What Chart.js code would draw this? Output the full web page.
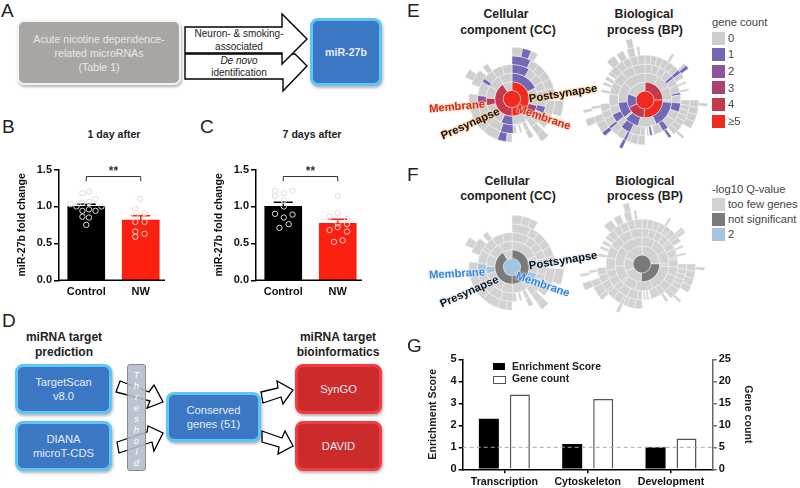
<!DOCTYPE html>
<html>
<head>
<meta charset="utf-8">
<script src="https://cdn.jsdelivr.net/npm/chart.js@4/dist/chart.umd.min.js"></script>
<style>
  html, body { margin: 0; padding: 0; background: #fff; }
  #stage { position: relative; width: 800px; height: 488px; overflow: hidden; font-family: "Liberation Sans", Arial, sans-serif; color: #111; }
  #stage canvas, #stage svg { position: absolute; }
  .c { position: absolute; transform: translate(-50%, -50%); white-space: nowrap; }
  .l { position: absolute; transform: translateY(-50%); white-space: nowrap; }
  .panel { font-size: 19px; color: #222; }
  .head { font-weight: bold; font-size: 12.3px; color: #222; }
  .small { font-size: 10px; color: #222; }
  .box { position: absolute; box-sizing: border-box; display: flex; align-items: center; justify-content: center; text-align: center; font-size: 11.2px; line-height: 14px; color: #e6edf6; box-shadow: 1px 2px 3px rgba(0,0,0,.3); }
  .blue { background: #3c77c3; border: 3px solid #5cc6f6; border-radius: 8px; }
  .red { background: #cb2b2b; border: 3px solid #f53a40; border-radius: 8px; }
  .grey { background: #a9a5a3; border: 2px solid #f3f3f3; border-radius: 7px; color: #e8e8e8; }
  .strip { position: absolute; left: 127px; top: 364px; width: 19px; height: 107px; box-sizing: border-box; background: rgba(178,188,202,.88); border: 1px solid #8b8b8b; border-radius: 3px; text-align: center; font-style: italic; font-size: 9.5px; line-height: 11px; padding-top: 4px; color: #fff; }
  .sw { position: absolute; left: 712px; width: 13px; height: 13px; }
  .leg { font-size: 11.2px; color: #444; }
  .orange { font-weight: bold; font-size: 11.2px; color: #111; text-shadow: 0 0 2px #f6c08c, 0 0 2px #f6c08c, 0 0 3px #f6c08c; }
  .rd { font-weight: bold; font-size: 11.2px; color: #d62a1e; text-shadow: 0 0 2px #f8cdb0, 0 0 2px #f8cdb0, 0 0 3px #f8cdb0; }
  .pale { font-weight: bold; font-size: 11.2px; color: #111; text-shadow: 0 0 2px #cfe4f6, 0 0 2px #cfe4f6, 0 0 3px #cfe4f6; }
  .bl { font-weight: bold; font-size: 11.2px; color: #3b86da; text-shadow: 0 0 2px #dcecfa, 0 0 2px #dcecfa, 0 0 3px #dcecfa; }
</style>
</head>
<body>
<div id="stage">
  <!-- A -->
  <div class="l panel" style="left:1px;top:11px">A</div>
  <div class="box grey" style="left:17px;top:20px;width:164px;height:65px;font-size:10.6px">Acute nicotine dependence-<br>related microRNAs<br>(Table 1)</div>
  <svg style="left:180px;top:10px" width="135" height="85" viewBox="180 10 135 85">
    <polygon points="185,54 295,54 307,66 283,91 283,79 185,79" fill="#fff" stroke="#000" stroke-width="1.4"/>
    <polygon points="185,27 282,27 282,14 307,39 282,64 282,53 185,53" fill="#fff" stroke="#000" stroke-width="1.4"/>
  </svg>
  <div class="box blue" style="left:310px;top:18px;width:72px;height:68px;font-weight:bold;font-size:10.6px">miR-27b</div>
  <div class="c small" style="left:239px;top:33px">Neuron- &amp; smoking-</div>
  <div class="c small" style="left:239px;top:46px">associated</div>
  <div class="c small" style="left:239px;top:60px"><i>De novo</i></div>
  <div class="c small" style="left:239px;top:72px">identification</div>

  <!-- B, C -->
  <div class="l panel" style="left:2px;top:127px">B</div>
  <div class="l panel" style="left:200px;top:127px">C</div>
  <div class="c head" style="left:114px;top:134px;font-size:10.6px">1 day after</div>
  <div class="c head" style="left:312px;top:134px;font-size:10.6px">7 days after</div>
  <canvas id="chartB" width="157" height="140" style="left:16px;top:160px"></canvas>
  <canvas id="chartC" width="157" height="140" style="left:213px;top:160px"></canvas>

  <!-- D -->
  <div class="l panel" style="left:2px;top:321px">D</div>
  <div class="c head" style="left:64px;top:337px;font-size:12px">miRNA target</div>
  <div class="c head" style="left:64px;top:352px;font-size:12px">prediction</div>
  <div class="c head" style="left:338px;top:337px;font-size:12px">miRNA target</div>
  <div class="c head" style="left:338px;top:352px;font-size:12px">bioinformatics</div>
  <div class="box blue" style="left:15px;top:364px;width:97px;height:50px">TargetScan<br>v8.0</div>
  <div class="box blue" style="left:15px;top:421px;width:97px;height:50px">DIANA<br>microT-CDS</div>
  <svg style="left:110px;top:370px" width="190" height="100" viewBox="110 370 190 100">
    <polygon points="120,381 149,392 154,385 163,402 147,408 150,401 116,392" fill="#fff" stroke="#000" stroke-width="1.3"/>
    <polygon points="117,442 147,432 148,426 163,433 154,451 152,442 119,453" fill="#fff" stroke="#000" stroke-width="1.3"/>
    <polygon points="261,392 278,388 277,381 293,390 283,404 281,397 263,403" fill="#fff" stroke="#000" stroke-width="1.3"/>
    <polygon points="262,431 282,438 285,431 293,446 278,454 279,447 262,442" fill="#fff" stroke="#000" stroke-width="1.3"/>
  </svg>
  <div class="strip">T<br>h<br>r<br>e<br>s<br>h<br>o<br>l<br>d</div>
  <div class="box blue" style="left:166px;top:392px;width:95px;height:50px">Conserved<br>genes (51)</div>
  <div class="box red" style="left:295px;top:364px;width:87px;height:50px">SynGO</div>
  <div class="box red" style="left:295px;top:421px;width:87px;height:50px">DAVID</div>

  <!-- E -->
  <div class="l panel" style="left:407px;top:11px">E</div>
  <div class="c head" style="left:506px;top:14px">Cellular</div>
  <div class="c head" style="left:508px;top:30px">component (CC)</div>
  <div class="c head" style="left:644px;top:14px">Biological</div>
  <div class="c head" style="left:645px;top:30px">process (BP)</div>
  <canvas id="sunCcGene" width="108" height="108" style="left:458px;top:45px"></canvas>
  <canvas id="sunBpGene" width="130" height="130" style="left:580px;top:35px"></canvas>
  <div class="c orange" style="left:563px;top:93px;transform:translate(-50%,-50%) rotate(-9deg)">Postsynapse</div>
  <div class="c rd" style="left:457px;top:106px;transform:translate(-50%,-50%) rotate(-5deg)">Membrane</div>
  <div class="c orange" style="left:470px;top:123px;transform:translate(-50%,-50%) rotate(-24deg)">Presynapse</div>
  <div class="c rd" style="left:544px;top:117px;transform:translate(-50%,-50%) rotate(19deg)">Membrane</div>
  <div class="l leg" style="left:712px;top:22px">gene count</div>
  <div id="geneLegend"></div>

  <!-- F -->
  <div class="l panel" style="left:407px;top:175px">F</div>
  <div class="c head" style="left:507px;top:181px">Cellular</div>
  <div class="c head" style="left:508px;top:196px">component (CC)</div>
  <div class="c head" style="left:645px;top:181px">Biological</div>
  <div class="c head" style="left:645px;top:196px">process (BP)</div>
  <canvas id="sunCcQ" width="108" height="108" style="left:458px;top:213px"></canvas>
  <canvas id="sunBpQ" width="130" height="130" style="left:577px;top:199px"></canvas>
  <div class="c pale" style="left:563px;top:260px;transform:translate(-50%,-50%) rotate(-9deg)">Postsynapse</div>
  <div class="c bl" style="left:457px;top:273px;transform:translate(-50%,-50%) rotate(-3deg)">Membrane</div>
  <div class="c pale" style="left:469px;top:291px;transform:translate(-50%,-50%) rotate(-24deg)">Presynapse</div>
  <div class="c bl" style="left:543px;top:284px;transform:translate(-50%,-50%) rotate(19deg)">Membrane</div>
  <div class="l leg" style="left:712px;top:189px">-log10 Q-value</div>
  <div id="qLegend"></div>

  <!-- G -->
  <div class="l panel" style="left:407px;top:346px">G</div>
  <canvas id="chartG" width="327" height="138" style="left:427px;top:350px"></canvas>
  <div class="sw" style="left:493px;top:363px;width:12px;height:7px;background:#000"></div>
  <div class="l head" style="left:512px;top:366px;font-size:10.4px">Enrichment Score</div>
  <div class="sw" style="left:493px;top:376px;width:11px;height:6px;background:#fff;border:1px solid #555"></div>
  <div class="l head" style="left:512px;top:378px;font-size:10.4px">Gene count</div>
</div>

<script>
// B, C: bars, sem and the single animals
const groups = ['Control', 'NW'];
const foldTicks = ['0.0', '0.5', '1.0', '1.5'];
const dayOneMeans = [1.0, 0.815];
const dayOneSems = [0.03, 0.058];
const dayOneCtrlX = [0.43, 0.55, 0.21, 0.32, 0.43, 0.55, 0.67, 0.78, 0.43, 0.55, 0.67, 0.43, 0.55, 0.5];
const dayOneCtrlY = [1.18, 1.2, 1.03, 1.0, 1.05, 1.06, 1.1, 1.0, 0.94, 0.96, 0.94, 0.86, 0.85, 0.75];
const dayOneNwX = [1.49, 1.4, 1.57, 1.4, 1.57, 1.4, 1.4, 1.4, 1.57];
const dayOneNwY = [1.1, 0.97, 0.91, 0.87, 0.79, 0.79, 0.66, 0.59, 0.63];
const daySevenMeans = [1.0, 0.77];
const daySevenSems = [0.055, 0.055];
const daySevenCtrlX = [0.35, 0.35, 0.51, 0.67, 0.51, 0.51, 0.35, 0.51, 0.67, 0.6, 0.43];
const daySevenCtrlY = [1.21, 1.14, 1.18, 1.21, 1.08, 1.0, 0.9, 0.85, 0.89, 0.76, 0.71];
const daySevenNwX = [1.5, 1.5, 1.35, 1.67, 1.5, 1.5, 1.67, 1.35, 1.67, 1.43, 1.59];
const daySevenNwY = [1.14, 0.91, 0.86, 0.83, 0.77, 0.72, 0.76, 0.68, 0.66, 0.52, 0.54];

// G
const terms = ['Transcription', 'Cytoskeleton', 'Development'];
const enrichment = [2.3, 1.15, 1.0];
const geneCount = [17, 16, 7];
const enrichTicks = ['0', '1', '2', '3', '4', '5'];
const countTicks = ['0', '5', '10', '15', '20', '25'];
const enrichCutoff = 1;

// sunbursts: rings from the centre out, [arc in degrees, gene count], null is an empty arc
const ccRing1 = [[180,5],[148,4],[32,0]];
const ccRing2 = [[65,1],[20,0],[20,0],[20,3],[20,0],[33,0],[27,1],[25,0],[25,0],[17,4],[28,0],[30,0],[30,0]];
const ccRing3 = [[30,1],[15,0],[15,0],[15,0],[14,0],[14,0],[12,1],[20,0],[10,0],[5,null],[7,0],[6,null],[4,0],[5,null],[6,0],[22,1],[22,0],[20,0],[20,0],[14,2],[24,0],[7,1],[18,0],[18,0],[17,0]];
const ccRing4 = [[26,1],[12,0],[12,0],[12,0],[13,0],[12,0],[5,null],[20,0],[20,0],[3,null],[10,0],[5,null],[7,0],[23,null],[8,0],[12,1],[22,0],[20,0],[20,0],[15,0],[13,null],[22,0],[5,null],[8,0]];
const ccRing5 = [[12,0],[10,1],[8,0],[62,null],[18,0],[25,null],[10,0],[150,null],[10,0]];

const bpRing1 = [[90,4],[93,5],[62,4],[45,1],[70,0]];
const bpRing2 = [[30,0],[30,0],[30,0],[6,0],[59,1],[40,0],[30,1],[5,0],[35,1],[45,0],[50,0]];
const bpRing3 = [[12,0],[12,0],[12,0],[12,0],[5,1],[12,0],[13,0],[4,1],[13,0],[15,1],[15,0],[15,0],[10,1],[15,0],[3,null],[4,1],[2,null],[3,0],[3,null],[8,0],[17,0],[17,1],[10,0],[14,1],[14,0],[20,0],[20,0],[20,0],[20,0],[20,0]];
const bpRing4 = [[8,0],[8,0],[8,0],[8,0],[8,0],[8,0],[5,1],[7,0],[5,null],[3,0],[7,null],[3,0],[12,null],[7,0],[7,0],[7,0],[7,0],[7,0],[8,0],[7,0],[4,null],[4,1],[32,null],[10,0],[10,0],[5,0],[4,1],[11,0],[10,0],[4,1],[11,0],[10,0],[10,0],[15,null],[4,0],[6,null],[4,0],[3,null],[5,0],[3,null],[5,0],[10,0],[10,0],[10,0],[10,0],[10,0]];
const bpRing5 = [[30,null],[3,0],[14,null],[3,0],[4,1],[36,null],[8,0],[8,0],[8,0],[8,0],[11,null],[3,0],[69,null],[4,1],[19,null],[5,1],[11,0],[8,0],[8,null],[3,0],[52,null],[10,0],[3,null],[8,0],[4,null],[8,0],[3,null],[3,0]];
const bpRing6 = [[93,null],[3,0],[149,null],[7,0],[6,null],[3,0],[81,null],[6,0]];

// -log10 Q of the two inner levels in panel F
const ccQCentre = 'sig';
const ccQRing1 = ['ns', 'ns', 'few'];
const bpQCentre = 'ns';
const bpQRing1 = ['few', 'ns', 'few', 'few', 'few'];

const geneLabels = ['0', '1', '2', '3', '4', '≥5'];
const qLabels = ['too few genes', 'not significant', '2'];

const geneColors = ['#cecece', '#7268b6', '#8c5597', '#a8426f', '#c8384b', '#f02a1e'];
const qColors = { few: '#d2d2d2', ns: '#7a7a7a', sig: '#a4c4e2' };
const tickFont = { family: 'Liberation Sans', size: 11, weight: 'bold' };

Chart.defaults.font.family = 'Liberation Sans';

// error bars and the ** bracket, from the chart's own scales
const groupMarks = {
  id: 'groupMarks',
  afterDatasetDraw(chart, args, opts) {
    if (args.meta.type !== 'bar') return;
    const ctx = chart.ctx, y = chart.scales.y;
    ctx.save();
    ctx.lineWidth = 1.5;
    opts.sems.forEach((sem, i) => {
      const bar = args.meta.data[i];
      const hi = y.getPixelForValue(opts.means[i] + sem), lo = y.getPixelForValue(opts.means[i] - sem);
      ctx.strokeStyle = opts.colors[i];
      ctx.beginPath();
      ctx.moveTo(bar.x, lo); ctx.lineTo(bar.x, hi);
      ctx.moveTo(bar.x - 9.5, hi); ctx.lineTo(bar.x + 9.5, hi);
      ctx.stroke();
    });
    ctx.restore();
  },
  afterDraw(chart) {
    const ctx = chart.ctx, x = chart.scales.x, y = chart.scales.y;
    const x0 = x.getPixelForValue(0), x1 = x.getPixelForValue(1);
    const top = y.getPixelForValue(1.405), leg = y.getPixelForValue(1.34);
    ctx.save();
    ctx.strokeStyle = '#333';
    ctx.lineWidth = 1;
    ctx.beginPath();
    ctx.moveTo(x0, leg); ctx.lineTo(x0, top); ctx.lineTo(x1, top); ctx.lineTo(x1, leg);
    ctx.stroke();
    ctx.fillStyle = '#333';
    ctx.font = 'bold 12px "Liberation Sans"';
    ctx.textAlign = 'center';
    ctx.textBaseline = 'middle';
    ctx.fillText('**', (x0 + x1) / 2, top - 5);
    // x axis stops a bit short of the plot area
    ctx.strokeStyle = '#000';
    ctx.lineWidth = 1.5;
    ctx.beginPath();
    ctx.moveTo(chart.chartArea.left, y.bottom); ctx.lineTo(chart.chartArea.right - 3, y.bottom);
    ctx.stroke();
    ctx.restore();
  }
};

function toPoints(xs, ys) {
  return xs.map((x, i) => ({ x, y: ys[i] }));
}

function foldChart(id, means, sems, ctrlX, ctrlY, nwX, nwY) {
  new Chart(document.getElementById(id), {
    data: {
      labels: groups,
      datasets: [
        { type: 'bar', xAxisID: 'x', yAxisID: 'y', data: means, backgroundColor: ['#000', '#fb2010'], barThickness: 37, grouped: false, order: 2 },
        { type: 'scatter', xAxisID: 'xp', yAxisID: 'y', data: toPoints(ctrlX, ctrlY), pointRadius: 2.7, pointBorderWidth: 1, pointBackgroundColor: 'transparent', pointBorderColor: '#dcdcdc', order: 1 },
        { type: 'scatter', xAxisID: 'xp', yAxisID: 'y', data: toPoints(nwX, nwY), pointRadius: 2.7, pointBorderWidth: 1, pointBackgroundColor: 'transparent', pointBorderColor: '#fbd0d0', order: 1 }
      ]
    },
    options: {
      responsive: false,
      animation: false,
      events: [],
      layout: { padding: { top: 9.5, right: 2 } },
      plugins: {
        legend: { display: false },
        tooltip: { enabled: false },
        groupMarks: { means, sems, colors: ['#000', '#fb2010'] }
      },
      scales: {
        x: {
          offset: true,
          grid: { display: false, drawTicks: false },
          border: { display: false },
          ticks: { font: tickFont, color: '#111', padding: 5 },
          afterFit(s) { s.height = 19.7; }
        },
        xp: { type: 'linear', display: false, min: 0, max: 2 },
        y: {
          min: 0, max: 1.5,
          grid: { drawOnChartArea: false, color: '#000', lineWidth: 1.5, tickLength: 5 },
          border: { color: '#000', width: 1.5 },
          ticks: { stepSize: 0.5, font: tickFont, color: '#111', padding: 2, callback: (v, i) => foldTicks[i] },
          title: { display: true, text: 'miR-27b fold change', font: { size: 10.5, weight: 'bold' }, color: '#111', padding: 0 },
          afterFit(s) { s.width = 43; }
        }
      }
    },
    plugins: [groupMarks]
  });
}

foldChart('chartB', dayOneMeans, dayOneSems, dayOneCtrlX, dayOneCtrlY, dayOneNwX, dayOneNwY);
foldChart('chartC', daySevenMeans, daySevenSems, daySevenCtrlX, daySevenCtrlY, daySevenNwX, daySevenNwY);

// one doughnut dataset per level, the first dataset is the outermost ring
function sunburst(id, rings, colorOf) {
  const datasets = rings.map((ring, level) => {
    const used = ring.reduce((sum, seg) => sum + seg[0], 0);
    const segs = used < 360 ? ring.concat([[360 - used, null]]) : ring;
    return {
      data: segs.map(seg => seg[0]),
      backgroundColor: segs.map((seg, i) => seg[1] === null ? 'rgba(0,0,0,0)' : colorOf(seg[1], level, i)),
      borderColor: level === 0 ? 'rgba(0,0,0,0)' : '#f4f4f4',
      borderWidth: segs.map(seg => seg[1] === null || level === 0 ? 0 : 0.5),
      hoverOffset: 0
    };
  }).reverse();
  new Chart(document.getElementById(id), {
    type: 'doughnut',
    data: { datasets },
    options: {
      responsive: false,
      animation: false,
      events: [],
      cutout: 0,
      layout: { padding: 2 },
      plugins: { legend: { display: false }, tooltip: { enabled: false } }
    }
  });
}

const centre = [[360, 5]];
const geneColorOf = count => geneColors[count];
const qColorOf = (centreQ, ring1Q) => (count, level, i) => {
  if (level === 0) return qColors[centreQ];
  if (level === 1) return qColors[ring1Q[i]];
  return qColors[count >= 2 ? 'sig' : 'few'];
};

const ccRings = [centre, ccRing1, ccRing2, ccRing3, ccRing4, ccRing5];
const bpRings = [centre, bpRing1, bpRing2, bpRing3, bpRing4, bpRing5, bpRing6];
sunburst('sunCcGene', ccRings, geneColorOf);
sunburst('sunBpGene', bpRings, geneColorOf);
sunburst('sunCcQ', ccRings, qColorOf(ccQCentre, ccQRing1));
sunburst('sunBpQ', bpRings, qColorOf(bpQCentre, bpQRing1));

// G, dashed cut-off on top of the bars
const cutoffLine = {
  id: 'cutoffLine',
  afterDatasetsDraw(chart) {
    const ctx = chart.ctx, y = chart.scales.y.getPixelForValue(enrichCutoff);
    ctx.save();
    ctx.strokeStyle = '#a8a8a8';
    ctx.lineWidth = 1;
    ctx.setLineDash([4, 3]);
    ctx.beginPath();
    ctx.moveTo(chart.chartArea.left, y); ctx.lineTo(chart.chartArea.right, y);
    ctx.stroke();
    ctx.restore();
  }
};

new Chart(document.getElementById('chartG'), {
  type: 'bar',
  data: {
    labels: terms,
    datasets: [
      { data: enrichment, yAxisID: 'y', backgroundColor: '#000', categoryPercentage: 0.744, barPercentage: 0.645 },
      { data: geneCount, yAxisID: 'y1', backgroundColor: '#fff', borderColor: '#555', borderWidth: 1.5, borderSkipped: 'bottom', categoryPercentage: 0.744, barPercentage: 0.645 }
    ]
  },
  options: {
    responsive: false,
    animation: false,
    events: [],
    layout: { padding: { top: 9.3 } },
    plugins: { legend: { display: false }, tooltip: { enabled: false } },
    scales: {
      x: {
        grid: { offset: false, drawOnChartArea: false, color: '#000', lineWidth: 1.5, tickLength: 4 },
        border: { color: '#000', width: 1.5 },
        ticks: { font: { size: 10.6, weight: 'bold' }, color: '#111', padding: 2 },
        afterFit(s) { s.height = 18.7; }
      },
      y: {
        position: 'left',
        min: 0, max: 5,
        grid: { drawOnChartArea: false, color: '#000', lineWidth: 1.5, tickLength: 4 },
        border: { color: '#000', width: 1.5 },
        ticks: { stepSize: 1, font: tickFont, color: '#111', padding: 2, callback: (v, i) => enrichTicks[i] },
        title: { display: true, text: 'Enrichment Score', font: { size: 10.6, weight: 'bold' }, color: '#222', padding: 0 },
        afterFit(s) { s.width = 35.7; }
      },
      y1: {
        position: 'right',
        min: 0, max: 25,
        grid: { drawOnChartArea: false, color: '#666', lineWidth: 1.5, tickLength: 4 },
        border: { color: '#666', width: 1.5 },
        ticks: { stepSize: 5, font: tickFont, color: '#111', padding: 2, callback: (v, i) => countTicks[i] },
        title: { display: true, text: 'Gene count', font: { size: 10.6, weight: 'bold' }, color: '#222', padding: 0 },
        afterFit(s) { s.width = 41.3; }
      }
    }
  },
  plugins: [cutoffLine]
});

// legends of E and F
function swatches(hostId, labels, colors, tops) {
  const host = document.getElementById(hostId);
  labels.forEach((text, i) => {
    const sw = document.createElement('div');
    sw.className = 'sw';
    sw.style.cssText = `top:${tops[i] - 6.5}px;background:${colors[i]}`;
    host.appendChild(sw);
    const lab = document.createElement('div');
    lab.className = 'l leg';
    lab.style.cssText = `left:728px;top:${tops[i]}px`;
    lab.textContent = text;
    host.appendChild(lab);
  });
}
swatches('geneLegend', geneLabels, geneColors, [38.3, 54.3, 71, 87.7, 104.3, 121]);
swatches('qLegend', qLabels, [qColors.few, qColors.ns, qColors.sig], [204, 219.3, 234.3]);
</script>
</body>
</html>
